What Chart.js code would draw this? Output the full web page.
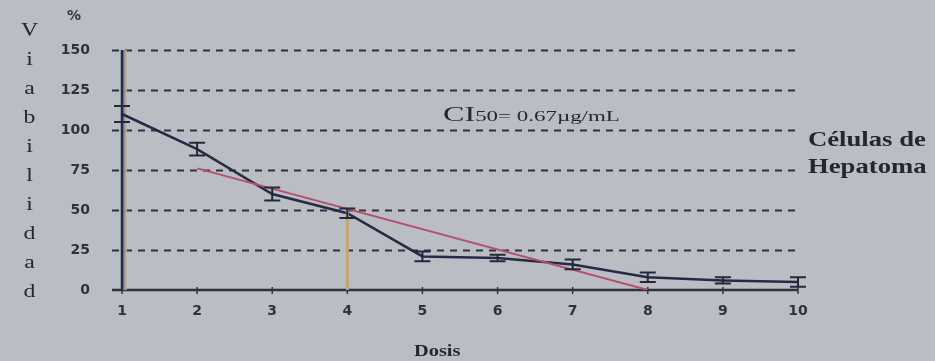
<!DOCTYPE html>
<html>
<head>
<meta charset="utf-8">
<script src="https://cdn.jsdelivr.net/npm/chart.js@4/dist/chart.umd.min.js"></script>
<style>
  body { margin: 0; background: #babdc3; overflow: hidden; }
  #wrap { position: relative; width: 935px; height: 361px; }
  canvas { position: absolute; left: 0; top: 0; }
  .lbl { position: absolute; color: #25272f; font-family: "Liberation Serif", "DejaVu Serif", serif; font-weight: bold; white-space: nowrap; transform-origin: left top; }
  #yTitle { left: 17px; top: 15px; width: 20px; text-align: center; font-size: 19px; font-weight: normal; line-height: 29px; transform: scaleX(1.25); }
  #pct { left: 67px; top: 7px; font-family: "DejaVu Sans", sans-serif; font-size: 14px; color: #34363f; }
  #dosis { left: 414px; top: 341px; font-size: 17px; transform: scaleX(1.2); }
  #ci { left: 443px; top: 102px; font-size: 15px; font-weight: normal; transform: scaleX(1.53); }
  #ci .big { font-size: 21px; }
  #legend { left: 808px; top: 126px; font-size: 21px; line-height: 27px; transform: scaleX(1.27); }
</style>
</head>
<body>
<div id="wrap">
  <canvas id="myChart" width="935" height="361"></canvas>
  <div class="lbl" id="yTitle"></div>
  <div class="lbl" id="pct">%</div>
  <div class="lbl" id="dosis">Dosis</div>
  <div class="lbl" id="ci"><span class="big">CI</span>50= 0.67µg/mL</div>
  <div class="lbl" id="legend">Células de<br>Hepatoma</div>
</div>
<script>
// datos
const doses = [1, 2, 3, 4, 5, 6, 7, 8, 9, 10];
const viability = [110, 88, 60, 48, 21, 20, 16, 8, 6, 5];
const errors = [5, 4, 4, 3, 3, 2, 3, 3, 2, 3];
// recta de tendencia (extremos)
const fitDoses = [2, 8];
const fitValues = [76, 0];
// linea CI50
const ic50Dose = 4;
const ic50Value = 50;
const yTickValues = [0, 25, 50, 75, 100, 125, 150];
const yTitleText = "Viabilidad";

document.getElementById("yTitle").innerHTML = yTitleText.split("").join("<br>");

function toPoints(xs, ys) {
    return xs.map((x, i) => ({x: x, y: ys[i]}));
}

// lineas punteadas horizontales + ejes
const gridPlugin = {
    id: 'gridPlugin',
    beforeDatasetsDraw(chart) {
        const ctx = chart.ctx;
        const xs = chart.scales.x, ys = chart.scales.y;
        const left = xs.left, right = xs.right;
        ctx.save();
        ctx.strokeStyle = '#30333f';
        ctx.lineWidth = 2;
        ctx.setLineDash([7, 6]);
        yTickValues.forEach(v => {
            if (v === 0) return;
            const py = Math.round(ys.getPixelForValue(v)) + 0.5;
            ctx.beginPath();
            ctx.moveTo(left - 10, py);
            ctx.lineTo(right + 3, py);
            ctx.stroke();
        });
        ctx.setLineDash([]);
        // eje x
        const y0 = ys.getPixelForValue(0);
        ctx.lineWidth = 2.5;
        ctx.beginPath();
        ctx.moveTo(left - 10, y0);
        ctx.lineTo(right, y0);
        ctx.stroke();
        // marcas del eje x
        ctx.lineWidth = 1.5;
        doses.forEach(d => {
            const px = xs.getPixelForValue(d);
            ctx.beginPath();
            ctx.moveTo(px, y0 - 3);
            ctx.lineTo(px, y0 + 4);
            ctx.stroke();
        });
        // eje y
        const x1 = xs.getPixelForValue(doses[0]);
        ctx.strokeStyle = '#7f8bc0';
        ctx.lineWidth = 3;
        ctx.beginPath();
        ctx.moveTo(x1 + 2, ys.getPixelForValue(150));
        ctx.lineTo(x1 + 2, y0);
        ctx.stroke();
        ctx.strokeStyle = '#cbb070';
        ctx.lineWidth = 1.5;
        ctx.beginPath();
        ctx.moveTo(x1 + 4, ys.getPixelForValue(150));
        ctx.lineTo(x1 + 4, y0);
        ctx.stroke();
        ctx.strokeStyle = '#262a3a';
        ctx.lineWidth = 2.5;
        ctx.beginPath();
        ctx.moveTo(x1, ys.getPixelForValue(150));
        ctx.lineTo(x1, y0);
        ctx.stroke();
        ctx.restore();
    }
};

// barras de error
const errorBarPlugin = {
    id: 'errorBarPlugin',
    afterDatasetsDraw(chart) {
        const ctx = chart.ctx;
        const xs = chart.scales.x, ys = chart.scales.y;
        ctx.save();
        ctx.strokeStyle = '#23283c';
        ctx.lineWidth = 2;
        doses.forEach((d, i) => {
            const px = xs.getPixelForValue(d);
            const top = ys.getPixelForValue(viability[i] + errors[i]);
            const bot = ys.getPixelForValue(viability[i] - errors[i]);
            ctx.beginPath();
            ctx.moveTo(px, top); ctx.lineTo(px, bot);
            ctx.moveTo(px - 8, top); ctx.lineTo(px + 8, top);
            ctx.moveTo(px - 8, bot); ctx.lineTo(px + 8, bot);
            ctx.stroke();
        });
        ctx.restore();
    }
};

const ctx = document.getElementById("myChart").getContext('2d');
const myChart = new Chart(ctx, {
    type: 'line',
    data: {
        datasets: [{
            data: [{x: ic50Dose, y: 0}, {x: ic50Dose, y: ic50Value}],
            borderColor: '#c9a466',
            borderWidth: 3,
            pointRadius: 0
        },
        {
            data: toPoints(fitDoses, fitValues),
            borderColor: '#b5506e',
            borderWidth: 2,
            pointRadius: 0
        },
        {
            data: toPoints(doses, viability),
            borderColor: '#262b45',
            borderWidth: 2.5,
            pointRadius: 0
        }]
    },
    options: {
        responsive: false,
        animation: false,
        devicePixelRatio: 1,
        layout: { padding: { left: 0, right: 137, top: 50, bottom: 0 } },
        plugins: {
            legend: { display: false },
            tooltip: { enabled: false }
        },
        scales: {
            x: {
                type: 'linear',
                min: 1,
                max: 10,
                grid: { display: false },
                border: { display: false },
                ticks: {
                    stepSize: 1,
                    padding: 5,
                    color: '#2f323c',
                    font: { family: 'DejaVu Sans', weight: 'bold', size: 14 }
                },
                afterFit: (scale) => { scale.height = 71; }
            },
            y: {
                min: 0,
                max: 150,
                grid: { display: false },
                border: { display: false },
                ticks: {
                    stepSize: 25,
                    padding: 24,
                    color: '#2f323c',
                    font: { family: 'DejaVu Sans', weight: 'bold', size: 14 }
                },
                afterFit: (scale) => { scale.width = 122; }
            }
        }
    },
    plugins: [gridPlugin, errorBarPlugin]
});
</script>
</body>
</html>
